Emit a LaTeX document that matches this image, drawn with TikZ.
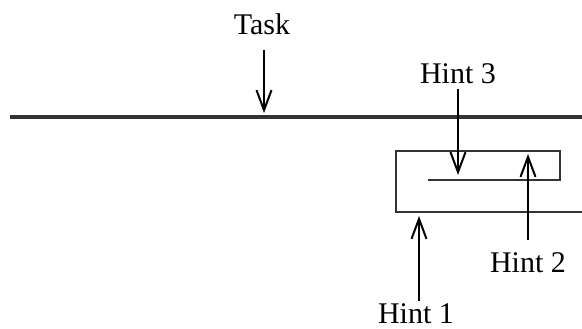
\documentclass[tikz,border=0pt]{standalone}
\usepackage{fontspec}
\setmainfont{Liberation Serif}
\usetikzlibrary{arrows.meta}
\begin{document}
\begin{tikzpicture}[x=1pt,y=-1pt,
  lbl/.style={inner sep=0pt,anchor=base,font=\fontsize{30}{32}\selectfont},
  frame/.style={line width=2.6pt,color=black!80},
  ptr/.style={line width=2pt,-{Straight Barb[length=20pt,width=15pt,line width=2pt]}}]
\useasboundingbox (0,0) rectangle (582,329);
% main line
\coordinate (L0) at (10,117);
\coordinate (L1) at (582,117);
\draw[frame,line width=3.2pt] (L0) -- (L1);
% box
\coordinate (b1) at (428,180);
\coordinate (b2) at (560,180);
\coordinate (b3) at (560,151);
\coordinate (b4) at (396,151);
\coordinate (b5) at (396,212);
\coordinate (b6) at (582,212);
\draw[frame,line join=miter] (b1) -- (b2) -- (b3) -- (b4) -- (b5) -- (b6);
% labels
\node[lbl] (task) at (262,35) {Task};
\node[lbl] (h3) at (458,84) {Hint 3};
\node[lbl] (h2) at (528,272) {Hint 2};
\node[lbl] (h1) at (416,323) {Hint 1};
% arrows
\coordinate (ts) at (264,50);  \coordinate (te) at (264,113);
\coordinate (h3s) at (458,89); \coordinate (h3e) at (458,175);
\coordinate (h2s) at (528,240); \coordinate (h2e) at (528,154);
\coordinate (h1s) at (419,301); \coordinate (h1e) at (419,216);
\draw[ptr] (ts) -- (te);
\draw[ptr] (h3s) -- (h3e);
\draw[ptr] (h2s) -- (h2e);
\draw[ptr] (h1s) -- (h1e);
\end{tikzpicture}
\end{document}
